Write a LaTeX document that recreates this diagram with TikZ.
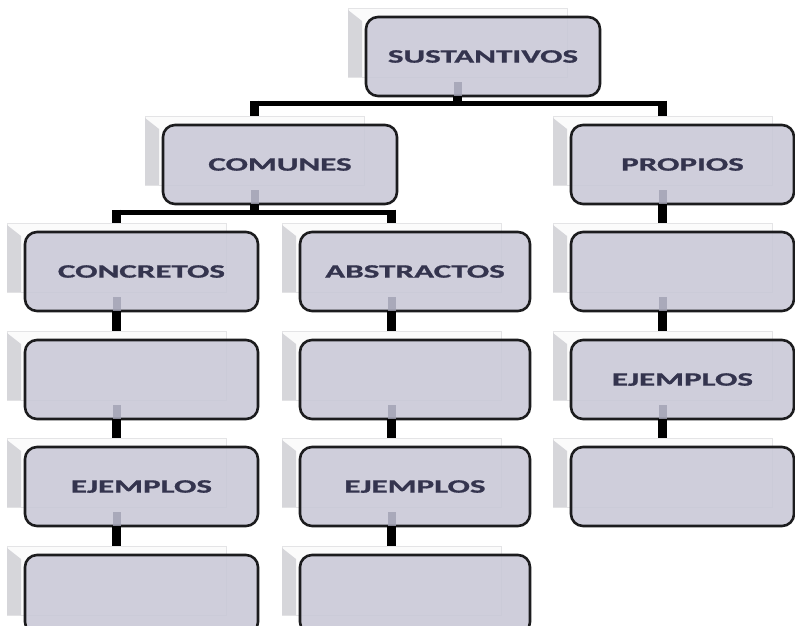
\documentclass[tikz,border=0pt]{standalone}
\usepackage{fontspec}
\setmainfont{Carlito}[BoldFeatures={FakeBold=0.8}]
\usetikzlibrary{calc}
\definecolor{boxfill}{RGB}{200,199,214}
\definecolor{boxline}{RGB}{28,28,30}
\definecolor{txtc}{RGB}{52,52,78}
\definecolor{shfill}{RGB}{251,251,251}
\definecolor{shline}{RGB}{228,228,230}
\definecolor{stripc}{RGB}{214,214,218}
\definecolor{stubc}{RGB}{160,160,178}
\tikzset{
  shadowbox/.style={draw=shline, line width=0.8pt, fill=shfill, anchor=north west,
    minimum width=219, minimum height=69, inner sep=0pt, outer sep=0pt},
  cardbox/.style={draw=boxline, line width=2.6pt, fill=boxfill, fill opacity=0.86,
    text opacity=1, rounded corners=12pt, anchor=north west, minimum height=79,
    inner sep=0pt, outer sep=0pt, text=txtc,
    font=\fontsize{19}{22}\selectfont\bfseries},
  vconn/.style={draw=black, line width=8.5pt, line cap=butt},
  hconn/.style={draw=black, line width=5pt, line cap=butt},
}
\newcommand\card[5]{%
  \node[shadowbox] (#1-s) at (#2-18,#3-9) {};
  \fill[stripc] ($(#1-s.north west)+(0,2)$) -- ($(#1-s.north west)+(14,13)$)
     -- ($(#1-s.south west)+(14,0)$) -- (#1-s.south west) -- cycle;
  \node[cardbox, minimum width=#4] (#1) at (#2,#3) {\scalebox{1.74}[1]{#5}};
  \coordinate (#1-o) at (#1-s.center |- #1.south);
}
\newcommand\stub[1]{\fill[stubc, fill opacity=0.8] ($(#1-o)+(-4,-14)$) rectangle ++(8,14);}
% branch: parent, left child, right child, drop
\newcommand\branch[4]{%
  \coordinate (#1-bar) at ($(#1-o)+(0,#4)$);
  \draw[hconn] ($(#2-s.north |- #1-bar)+(-4.25,0)$) -- ($(#3-s.north |- #1-bar)+(4.25,0)$);
  \draw[vconn] (#1-o) -- ($(#1-bar)+(0,2.5)$);
  \draw[vconn] ($(#2-s.north |- #1-bar)+(0,-2.5)$) -- (#2-s.north);
  \draw[vconn] ($(#3-s.north |- #1-bar)+(0,-2.5)$) -- (#3-s.north);
}
\begin{document}
\begin{tikzpicture}[x=1pt,y=-1pt]
\useasboundingbox (0,0) rectangle (795,626);
\clip (0,0) rectangle (795,626);
\fill[white] (0,0) rectangle (795,626);
% boxes
\card{S}{366}{17}{234}{SUSTANTIVOS}
\card{C}{163}{125}{234}{COMUNES}
\card{P}{571}{125}{223}{PROPIOS}
\card{K}{25}{232}{233}{CONCRETOS}
\card{A}{300}{232}{230}{ABSTRACTOS}
\card{P1}{571}{232}{223}{}
\card{K1}{25}{340}{233}{}
\card{A1}{300}{340}{230}{}
\card{P2}{571}{340}{223}{EJEMPLOS}
\card{K2}{25}{447}{233}{EJEMPLOS}
\card{A2}{300}{447}{230}{EJEMPLOS}
\card{P3}{571}{447}{223}{}
\card{K3}{25}{555}{233}{}
\card{A3}{300}{555}{230}{}
% stubs
\foreach \n in {S,C,P,K,A,P1,K1,A1,P2,K2,A2} {\stub{\n}}
% connectors
\branch{S}{C}{P}{7}
\branch{C}{K}{A}{8}
\draw[vconn] (K-o) -- (K1-s.north);
\draw[vconn] (K1-o) -- (K2-s.north);
\draw[vconn] (K2-o) -- (K3-s.north);
\draw[vconn] (A-o) -- (A1-s.north);
\draw[vconn] (A1-o) -- (A2-s.north);
\draw[vconn] (A2-o) -- (A3-s.north);
\draw[vconn] (P-o) -- (P1-s.north);
\draw[vconn] (P1-o) -- (P2-s.north);
\draw[vconn] (P2-o) -- (P3-s.north);
\end{tikzpicture}
\end{document}
